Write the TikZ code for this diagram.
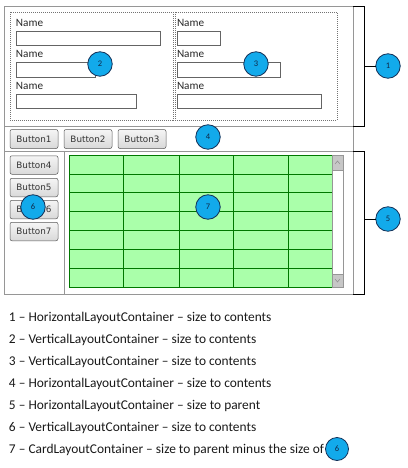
\documentclass[tikz,border=0pt]{standalone}
\usepackage{fontspec}
\setmainfont{Carlito}
\newfontfamily\btnfont{DejaVu Sans}
\usetikzlibrary{calc}
\definecolor{circfill}{RGB}{18,170,235}
\definecolor{circline}{RGB}{20,50,90}
\definecolor{gridgreen}{RGB}{170,255,170}
\definecolor{gridline}{RGB}{0,120,0}
\definecolor{framegray}{RGB}{150,150,150}
\definecolor{fieldgray}{RGB}{100,100,100}
\tikzset{
  every node/.style={inner sep=0pt, outer sep=0pt},
  marker/.style={circle, draw=circline, line width=0.8pt, fill=circfill, minimum size=24.5pt, font=\fontsize{8.5}{9}\selectfont, text=circline!80!black},
  field/.style={draw=fieldgray, line width=0.6pt},
  namelbl/.style={anchor=base west, font=\fontsize{11.2}{12}\selectfont, text=black!85},
  btn/.style={draw=black!65, rounded corners=2pt, line width=0.5pt, top color=white!96!black, bottom color=black!15, font=\btnfont\fontsize{8.8}{9}\selectfont, text=black!80},
  dotbox/.style={draw=black!55, dash pattern=on 1pt off 1pt, line width=0.5pt},
  bracket/.style={draw=black, line width=0.8pt},
  legend/.style={anchor=base west, font=\fontsize{13.4}{14}\selectfont, text=black!90},
}
\begin{document}
\begin{tikzpicture}[x=1pt,y=-1pt]
\useasboundingbox (0,0) rectangle (407,468);
% outer frame
\draw[framegray, line width=0.6pt] (4,6) rectangle (353,294);
\draw[framegray, line width=0.6pt] (4,126) -- (353,126);
\draw[framegray, line width=0.6pt] (4,151) -- (353,151);
\draw[framegray, line width=0.6pt] (64,151) -- (64,294);
% dotted boxes
\draw[dotbox] (10,12) rectangle (173,120);
\draw[dotbox] (175,12) rectangle (337,120);
% box 2 fields
\node[namelbl] (n21) at (16,27) {Name};
\draw[field] (16,31) rectangle (160,45);
\node[namelbl] (n22) at (16,58) {Name};
\draw[field] (16,62) rectangle (95,77);
\node[namelbl] (n23) at (16,90) {Name};
\draw[field] (16,94) rectangle (136,108);
% box 3 fields
\node[namelbl] (n31) at (177,27) {Name};
\draw[field] (177,31) rectangle (220,45);
\node[namelbl] (n32) at (177,58) {Name};
\draw[field] (177,62) rectangle (280,77);
\node[namelbl] (n33) at (177,90) {Name};
\draw[field] (177,94) rectangle (321,108);
% buttons row
\node[btn, minimum width=48pt, minimum height=19pt] (b1) at (34,139) {Button1};
\node[btn, minimum width=48pt, minimum height=19pt] (b2) at (88,139) {Button2};
\node[btn, minimum width=48pt, minimum height=19pt] (b3) at (142,139) {Button3};
% button column
\node[btn, minimum width=48pt, minimum height=18.5pt] (b4) at (34,165) {Button4};
\node[btn, minimum width=48pt, minimum height=18.5pt] (b5) at (34,187.5) {Button5};
\node[btn, minimum width=48pt, minimum height=18.5pt] (b6) at (34,209.5) {Button6};
\node[btn, minimum width=48pt, minimum height=18.5pt] (b7) at (34,231.5) {Button7};
% grid
\fill[gridgreen] (69,155) rectangle (332,287);
\foreach \x in {69,123,179,233,288,332} \draw[gridline, line width=0.7pt] (\x,155) -- (\x,287);
\foreach \y in {155,173.9,192.7,211.6,230.4,249.3,268.1,287} \draw[gridline, line width=0.7pt] (69,\y) -- (332,\y);
% scrollbar
\draw[framegray, fill=white, line width=0.5pt] (332,155) rectangle (343,287);
\draw[framegray, fill=black!22, line width=0.5pt] (332,155) rectangle (343,170);
\draw[framegray, fill=black!22, line width=0.5pt] (332,274) rectangle (343,287);
\draw[black!45, line width=0.5pt] (335,164) -- (337.5,161) -- (340,164);
\draw[black!45, line width=0.5pt] (335,279) -- (337.5,282) -- (340,279);
% brackets
\draw[bracket] (353,6) -- (364,6) -- (364,126) -- (353,126);
\coordinate (m1) at (364,66);
\node[marker] (c1) at (388,66) {1};
\draw[bracket] (m1) -- (c1);
\draw[bracket] (353,151) -- (364,151) -- (364,294) -- (353,294);
\coordinate (m5) at (364,219);
\node[marker] (c5) at (388,219) {5};
\draw[bracket] (m5) -- (c5);
% markers
\node[marker] (c2) at (100,64) {2};
\node[marker] (c3) at (256,64) {3};
\node[marker] (c4) at (208,137) {4};
\node[marker] (c6) at (33,207) {6};
\node[marker] (c7) at (208,207) {7};
% legend
\node[legend] (l1) at (9,321) {1 -- HorizontalLayoutContainer -- size to contents};
\node[legend] (l2) at (9,343) {2 -- VerticalLayoutContainer -- size to contents};
\node[legend] (l3) at (9,365) {3 -- VerticalLayoutContainer -- size to contents};
\node[legend] (l4) at (9,387) {4 -- HorizontalLayoutContainer -- size to contents};
\node[legend] (l5) at (9,409) {5 -- HorizontalLayoutContainer -- size to parent};
\node[legend] (l6) at (9,431) {6 -- VerticalLayoutContainer -- size to contents};
\node[legend] (l7) at (9,453) {7 -- CardLayoutContainer -- size to parent minus the size of};
\node[marker, minimum size=23pt] (c6b) at (337,449) {6};
\end{tikzpicture}
\end{document}
